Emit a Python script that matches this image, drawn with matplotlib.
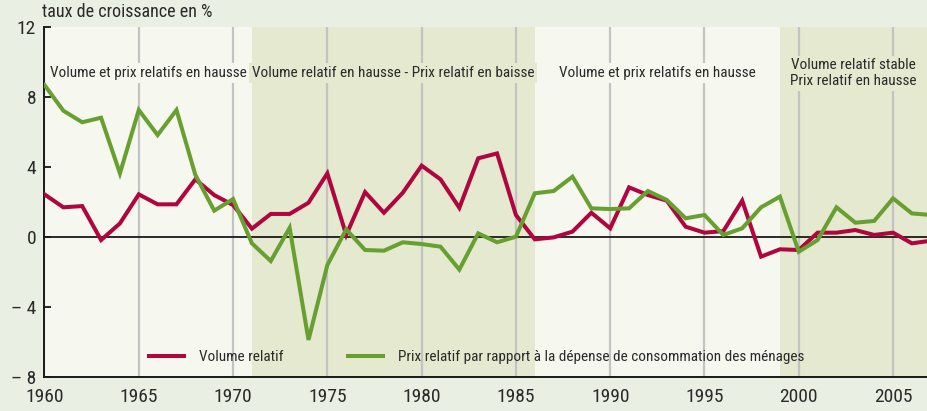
import matplotlib
matplotlib.use("Agg")
import matplotlib.pyplot as plt
import numpy as np

plt.rcParams['font.family'] = ['Roboto Condensed', 'DejaVu Sans']

years = list(range(1960, 2008))
volume_relatif = [2.42, 1.68, 1.75, -0.19, 0.76, 2.42, 1.85, 1.85, 3.28, 2.38,
                  1.81, 0.46, 1.30, 1.30, 1.94, 3.62, 0.10, 2.55, 1.37, 2.51,
                  4.06, 3.28, 1.65, 4.48, 4.76, 1.24, -0.15, -0.04, 0.29, 1.37,
                  0.48, 2.82, 2.38, 2.06, 0.57, 0.23, 0.32, 2.06, -1.14, -0.72,
                  -0.76, 0.23, 0.23, 0.38, 0.10, 0.23, -0.38, -0.23]
prix_relatif = [8.67, 7.20, 6.54, 6.80, 3.62, 7.24, 5.81, 7.24, 3.53, 1.49,
                2.15, -0.38, -1.39, 0.51, -5.90, -1.62, 0.42, -0.76, -0.80, -0.32,
                -0.42, -0.57, -1.88, 0.19, -0.32, 0.00, 2.48, 2.61, 3.43, 1.62,
                1.58, 1.62, 2.61, 2.10, 1.05, 1.24, 0.10, 0.48, 1.68, 2.29,
                -0.86, -0.19, 1.68, 0.80, 0.90, 2.19, 1.33, 1.24]

zone_edges = [1960, 1971, 1986, 1999, 2006.8]
zone_labels = ["Volume et prix relatifs en hausse",
               "Volume relatif en hausse - Prix relatif en baisse",
               "Volume et prix relatifs en hausse",
               "Volume relatif stable\nPrix relatif en hausse"]
y_ticks = [12, 8, 4, 0, -4, -8]
y_ticklabels = ["12", "8", "4", "0", "\u2013 4", "\u2013 8"]
x_ticks = [1960, 1965, 1970, 1975, 1980, 1985, 1990, 1995, 2000, 2005]

fig_bg = '#e9efe2'
zone_colors = ['#f6f7ee', '#e5e9cf', '#f6f7ee', '#e5e9cf']
red = '#b0063f'
green = '#67a031'
text_color = '#2a2a2a'

fig = plt.figure(figsize=(9.27, 4.11), dpi=100, facecolor=fig_bg)
ax = fig.add_axes([0.048, 0.0835, 0.952, 0.8515])
ax.set_facecolor(fig_bg)

for i in range(len(zone_labels)):
    ax.axvspan(zone_edges[i], zone_edges[i + 1], color=zone_colors[i], zorder=0, lw=0)

ax.set_axisbelow(True)
ax.grid(axis='x', color='#c3c3c3', lw=1.6)
ax.grid(axis='y', visible=False)
ax.axhline(0, color='#1a1a1a', lw=1.3, zorder=2)

ax.plot(years, volume_relatif, color=red, lw=2.9, label='Volume relatif', zorder=4,
        solid_joinstyle='miter')
ax.plot(years, prix_relatif, color=green, lw=2.9,
        label='Prix relatif par rapport \u00e0 la d\u00e9pense de consommation des m\u00e9nages',
        zorder=4, solid_joinstyle='miter')

for i, lab in enumerate(zone_labels):
    xc = (zone_edges[i] + zone_edges[i + 1]) / 2
    ax.text(xc, 9.35, lab, ha='center', va='center', fontsize=11.0, color=text_color,
            linespacing=1.15, zorder=3,
            bbox=dict(facecolor=zone_colors[i], edgecolor='none', pad=2))

ax.set_xlim(1960, 2006.8)
ax.set_ylim(-8, 12)
ax.set_yticks(y_ticks)
ax.set_yticklabels(y_ticklabels)
ax.set_xticks(x_ticks)
ax.tick_params(axis='y', direction='in', length=5, width=1.2, labelsize=14, pad=6,
               labelcolor=text_color)
ax.tick_params(axis='x', length=0, labelsize=14, pad=8, labelcolor=text_color)
for s in ['top', 'right']:
    ax.spines[s].set_visible(False)
for s in ['left', 'bottom']:
    ax.spines[s].set_color('#1a1a1a')
    ax.spines[s].set_linewidth(1.4)

leg = ax.legend(ncol=2, loc='center', bbox_to_anchor=(0.49, 0.056), frameon=False,
                fontsize=11.0, handlelength=2.3, handletextpad=1.0, columnspacing=4.2)
for t in leg.get_texts():
    t.set_color(text_color)

fig.text(42 / 927, 1 - 12 / 411, "taux de croissance en %", ha='left', va='center',
         fontsize=13, color=text_color)

fig.savefig('out.png', dpi=100, facecolor=fig_bg)
